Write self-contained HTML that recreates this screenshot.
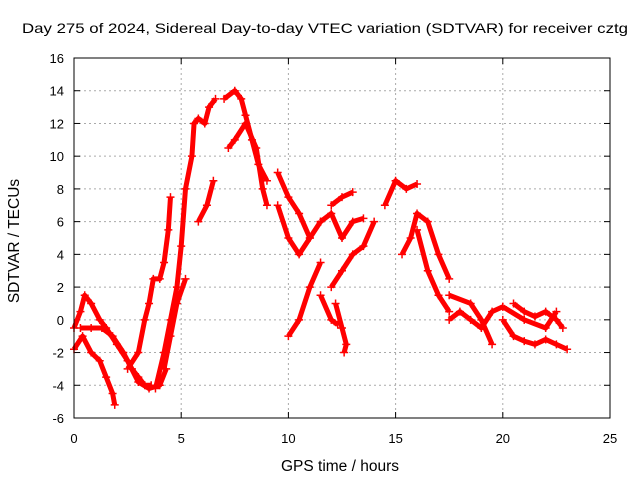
<!DOCTYPE html>
<html><head><meta charset="utf-8"><style>
body{margin:0;background:#fff}
svg{display:block;font-family:"Liberation Sans",sans-serif}
</style></head><body>
<svg id="chart" width="640" height="480">
<text x="325" y="33" font-size="14" textLength="606" lengthAdjust="spacingAndGlyphs" text-anchor="middle">Day 275 of 2024, Sidereal Day-to-day VTEC variation (SDTVAR) for receiver cztg</text>
<text x="340" y="471" font-size="15.5" text-anchor="middle">GPS time / hours</text>
<text transform="translate(19,241) rotate(-90)" font-size="15.5" text-anchor="middle">SDTVAR / TECUs</text>
<g id="grid"></g><g id="ticks"></g><g id="marks"></g>
<rect x="74" y="58" width="536" height="360" fill="none" stroke="#000"/>
</svg>
<script>
const xTicks=[0,5,10,15,20,25];
const yTicks=[-6,-4,-2,0,2,4,6,8,10,12,14,16];
const trackA=[[0,-0.5],[0.3,0.5],[0.5,1.5],[0.8,1],[1.2,0],[1.5,-0.5],[2,-1.5],[2.5,-2.5],[3,-3.8],[3.5,-4.2],[4,-4],[4.3,-3]];
const trackB=[[0,-1.8],[0.4,-1],[0.8,-2],[1.2,-2.5],[1.5,-3.5],[1.8,-4.5],[1.9,-5.2]];
const trackC=[[0.3,-0.5],[0.8,-0.5],[1.3,-0.5],[1.8,-1],[2.3,-2],[2.7,-3],[3,-3.5],[3.3,-4],[3.6,-4]];
const trackD=[[2.5,-3],[3,-2],[3.3,0],[3.5,1],[3.7,2.5],[4,2.5],[4.2,3.5],[4.4,5.5],[4.5,7.5]];
const trackE=[[3.8,-4.2],[4.2,-2],[4.5,0],[4.8,2],[5,4.5],[5.2,8],[5.5,10],[5.6,12],[5.8,12.3],[6.1,12],[6.3,13],[6.6,13.5]];
const trackF=[[4.2,-3],[4.5,-1],[4.8,1],[5.2,2.5]];
const trackG=[[5.8,6],[6.2,7],[6.5,8.5]];
const trackH=[[7,13.5],[7.5,14],[7.8,13.5],[8,12.5],[8.3,11],[8.6,9.5],[9,8.5]];
const trackI=[[7.2,10.5],[7.5,11],[8,12],[8.5,10.5],[8.8,8],[9,7]];
const trackJ=[[9.5,9],[10,7.5],[10.5,6.5],[11,5]];
const trackK=[[9.5,7],[10,5],[10.5,4],[11,5],[11.5,6]];
const trackL=[[10,-1],[10.5,0],[11,2],[11.5,3.5]];
const trackM=[[11.5,1.5],[12,0],[12.3,-0.3]];
const trackN=[[12,2],[12.5,3],[13,4],[13.5,4.5],[14,6]];
const trackO=[[11.5,6],[12,6.5],[12.5,5],[13,6],[13.5,6.2]];
const trackP=[[12,7],[12.5,7.5],[13,7.8]];
const trackQ=[[12.2,1],[12.5,-0.5],[12.7,-1.5],[12.6,-2]];
const trackR=[[14.5,7],[15,8.5],[15.5,8],[16,8.3]];
const trackS=[[15.3,4],[15.7,5],[16,6.5],[16.5,6],[17,4],[17.5,2.5]];
const trackT=[[16,5.5],[16.5,3],[17,1.5],[17.5,0.5]];
const trackU=[[17.5,0],[18,0.5],[18.5,0],[19,-0.5],[19.5,0.5],[20,0.8]];
const trackV=[[17.5,1.5],[18.5,1],[19,0],[19.5,-1.5]];
const trackW=[[20,0],[20.5,-1],[21,-1.3],[21.5,-1.5],[22,-1.2],[22.5,-1.5],[23,-1.8]];
const trackX=[[20.5,1],[21,0.5],[21.5,0.2],[22,0.5],[22.5,0],[22.8,-0.5]];
const trackY=[[20,0.8],[21,0],[22,-0.5],[22.5,0.5]];
const tracks=[trackA,trackB,trackC,trackD,trackE,trackF,trackG,trackH,trackI,trackJ,trackK,trackL,trackM,trackN,trackO,trackP,trackQ,trackR,trackS,trackT,trackU,trackV,trackW,trackX,trackY];
const NS="http://www.w3.org/2000/svg";
const X=v=>74+v*(536/25), Y=v=>418-(v+6)*(360/22);
const grid=document.getElementById('grid'),ticks=document.getElementById('ticks'),marks=document.getElementById('marks');
function mk(t,a,p){const e=document.createElementNS(NS,t);for(const k in a)e.setAttribute(k,a[k]);p.appendChild(e);return e;}
xTicks.forEach(v=>{
 if(v>0&&v<25){const g=mk('line',{x1:X(v),x2:X(v),y1:58,y2:418,stroke:'#aaa','stroke-dasharray':'2,3'},grid);
 
 }
 const t=mk('text',{x:X(v),y:443,'font-size':13,'text-anchor':'middle'},ticks);t.textContent=v;
 
 
 mk('line',{x1:X(v),x2:X(v),y1:418,y2:412,stroke:'#000'},ticks);mk('line',{x1:X(v),x2:X(v),y1:58,y2:64,stroke:'#000'},ticks);
});
yTicks.forEach(v=>{
 if(v>-6&&v<16){const g=mk('line',{x1:74,x2:610,y1:Y(v),y2:Y(v),stroke:'#aaa','stroke-dasharray':'2,3'},grid);
 
 }
 const t=mk('text',{x:64,y:Y(v)+5,'font-size':13,'text-anchor':'end'},ticks);t.textContent=v;
 
 
 mk('line',{x1:74,x2:80,y1:Y(v),y2:Y(v),stroke:'#000'},ticks);mk('line',{x1:604,x2:610,y1:Y(v),y2:Y(v),stroke:'#000'},ticks);
});
tracks.forEach(tr=>{
 const pl=mk('polyline',{points:tr.map(p=>X(p[0])+','+Y(p[1])).join(' '),fill:'none',stroke:'#f00','stroke-width':5,'stroke-linejoin':'round'},marks);
 
 
 tr.forEach(p=>{const x=X(p[0]),y=Y(p[1]);
  const m=mk('path',{d:`M${x-4},${y}H${x+4}M${x},${y-4}V${y+4}`,stroke:'#f00','stroke-width':1.5},marks);
  
  });
});
</script>
</body></html>
